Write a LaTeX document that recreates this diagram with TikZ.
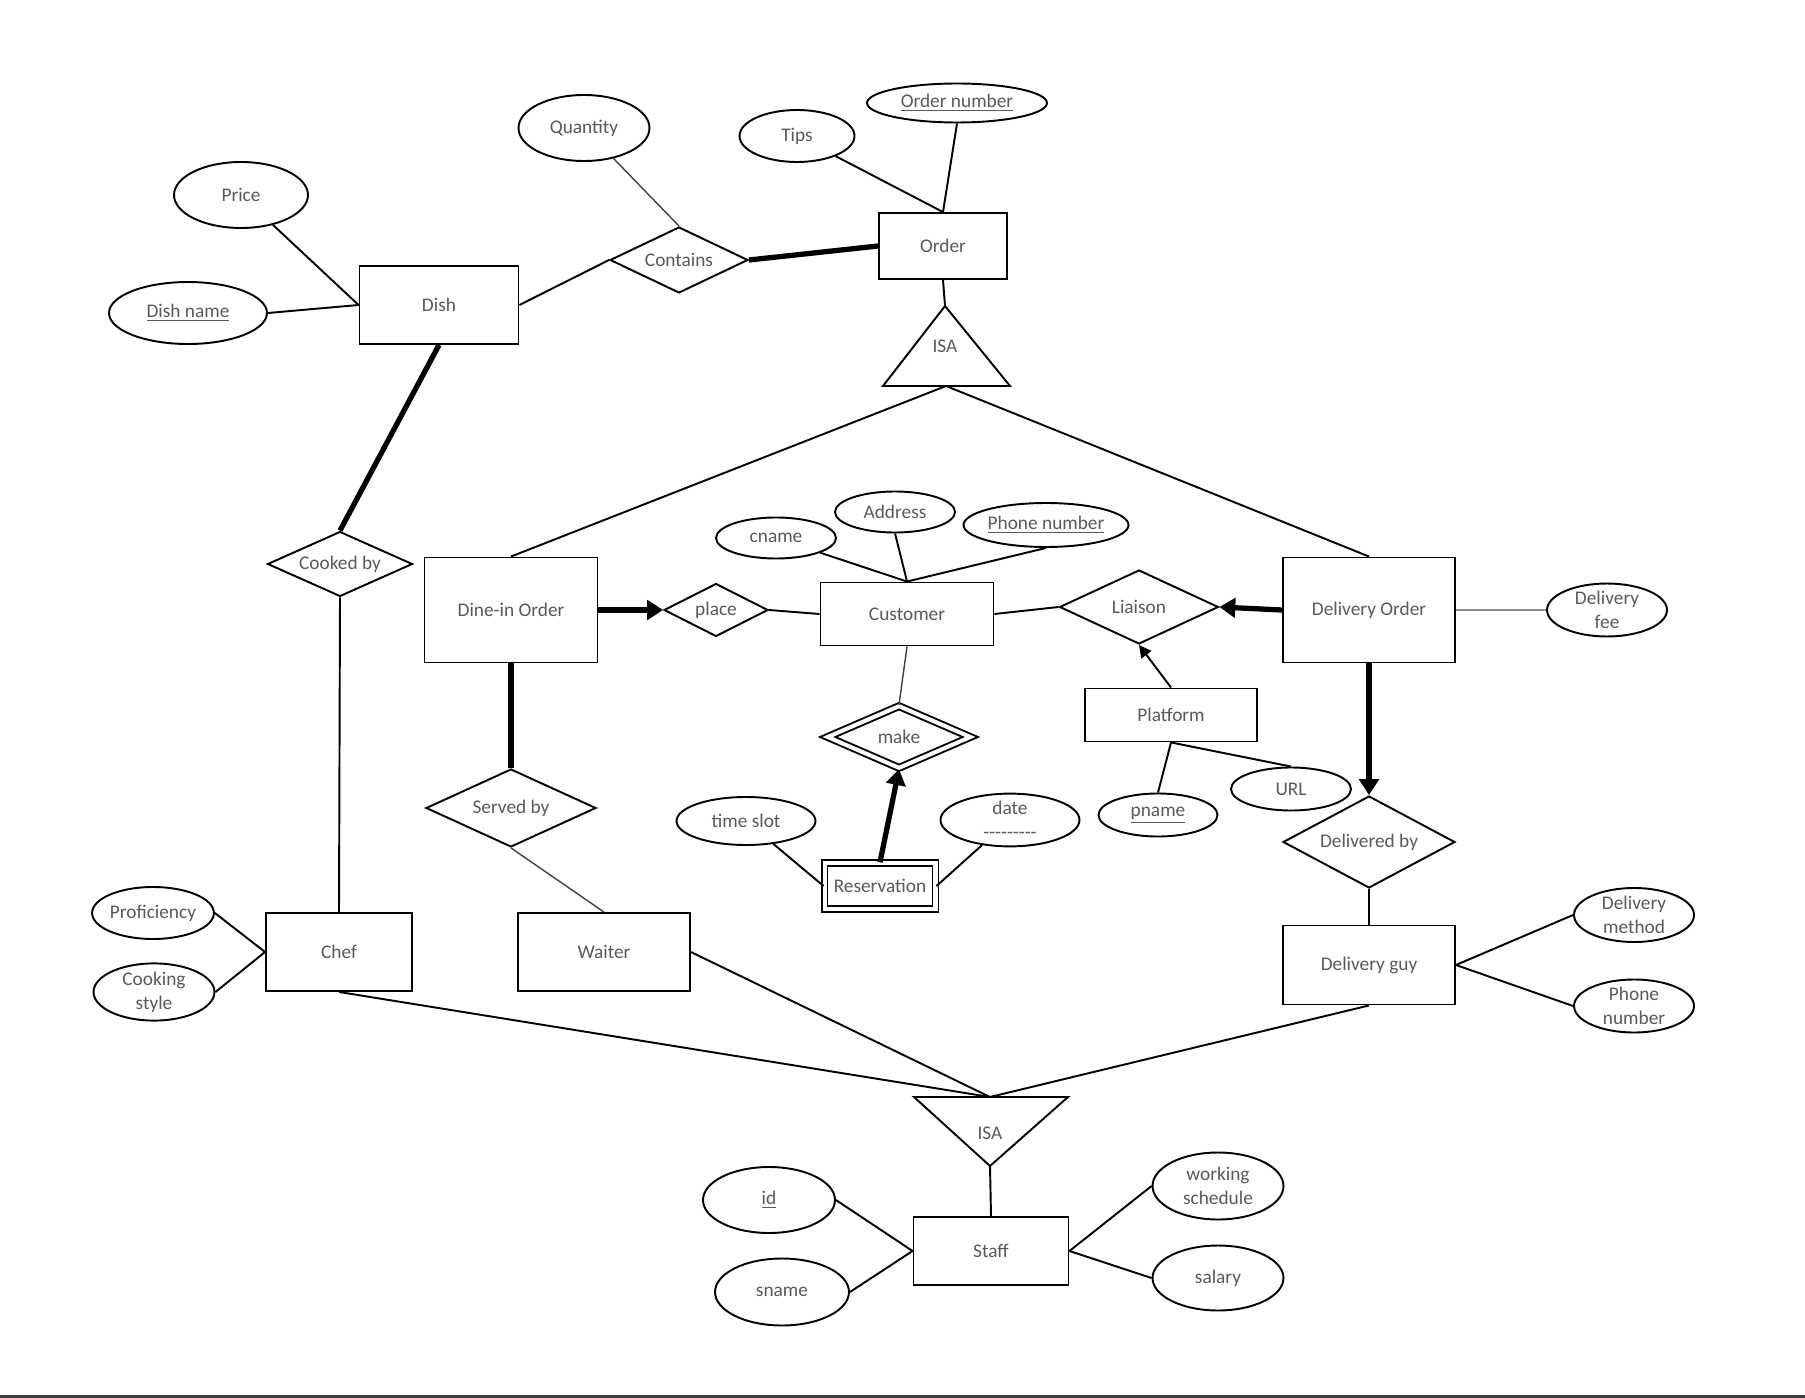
\documentclass[tikz,border=0pt]{standalone}
\usepackage{fontspec}
\setmainfont{Carlito}
\usepackage{tikz}
\usetikzlibrary{shapes.geometric, arrows.meta}
\definecolor{labelgray}{RGB}{89,89,89}

\begin{document}
\begin{tikzpicture}[x=0.02cm, y=-0.02cm, line width=1.1pt,
  every node/.style={text=labelgray, font=\fontsize{11}{13.6}\selectfont},
  entity/.style={draw=black, rectangle, inner sep=0pt},
  rel/.style={draw=black, diamond, aspect=2, inner sep=0pt},
  attr/.style={draw=black, ellipse, inner sep=0pt, align=center},
  heavy/.style={line width=3pt},
  thinline/.style={line width=0.8pt, black!75},
  bigtip/.style={-{Triangle[length=9pt,width=11pt]}}]
  \useasboundingbox (0,0) rectangle (1805,1398);
  % ---- entities ----
  \node[entity, minimum width=3.18cm, minimum height=1.56cm] (dish) at (439,305) {Dish};
  \node[entity, minimum width=2.56cm, minimum height=1.32cm] (order) at (943,246) {Order};
  \node[entity, minimum width=3.46cm, minimum height=2.10cm] (dinein) at (511,610) {Dine-in Order};
  \node[entity, minimum width=3.46cm, minimum height=1.26cm] (customer) at (907,614) {Customer};
  \node[entity, minimum width=3.44cm, minimum height=2.10cm] (delivord) at (1369,610) {Delivery Order};
  \node[entity, minimum width=3.44cm, minimum height=1.06cm] (platform) at (1171,715) {Platform};
  \node[entity, double, double distance=2.3pt, minimum width=2.22cm, minimum height=0.91cm] (reserv) at (880,886) {Reservation};
  \node[entity, minimum width=2.92cm, minimum height=1.56cm] (chef) at (339,952) {Chef};
  \node[entity, minimum width=3.44cm, minimum height=1.56cm] (waiter) at (604,952) {Waiter};
  \node[entity, minimum width=3.44cm, minimum height=1.58cm] (delivguy) at (1369,965) {Delivery guy};
  \node[entity, minimum width=3.10cm, minimum height=1.36cm] (staff) at (991,1251) {Staff};
  % ---- relationships ----
  \node[rel, minimum width=2.76cm, minimum height=1.32cm] (contains) at (679,260) {Contains};
  \node[rel, minimum width=2.90cm, minimum height=1.30cm] (cookedby) at (340,564) {Cooked by};
  \node[rel, minimum width=2.08cm, minimum height=1.06cm] (place) at (716,610) {place};
  \node[rel, minimum width=3.18cm, minimum height=1.48cm] (liaison) at (1139,607) {Liaison};
  \node[rel, double, double distance=2.3pt, minimum width=2.87cm, minimum height=1.25cm] (make) at (899,737) {make};
  \node[rel, minimum width=3.40cm, minimum height=1.56cm] (servedby) at (511,808) {Served by};
  \node[rel, minimum width=3.44cm, minimum height=1.84cm] (delivby) at (1369,842) {Delivered by};
  % ---- ISA triangles ----
  \coordinate (isaonetop) at (945,306);
  \coordinate (isaonebase) at (946,386);
  \draw (isaonetop) -- (883,386) -- (1010,386) -- cycle;
  \node (isaone) at (945,346) {ISA};
  \coordinate (isatwotop) at (990,1097);
  \coordinate (isatwoapex) at (990,1166);
  \draw (914,1097) -- (1068,1097) -- (isatwoapex) -- cycle;
  \node (isatwo) at (990,1133) {ISA};
  % ---- attributes ----
  \node[attr, minimum width=2.68cm, minimum height=1.32cm] (price) at (241,195) {Price};
  \node[attr, minimum width=3.16cm, minimum height=1.24cm] (dishname) at (188,313) {\underline{Dish name}};
  \node[attr, minimum width=2.62cm, minimum height=1.32cm] (quantity) at (584,128) {Quantity};
  \node[attr, minimum width=2.30cm, minimum height=1.04cm] (tips) at (797,136) {Tips};
  \node[attr, minimum width=3.60cm, minimum height=0.78cm] (ordernum) at (957,103) {\underline{Order number}};
  \node[attr, minimum width=2.40cm, minimum height=0.82cm] (cname) at (776,538) {cname};
  \node[attr, minimum width=2.40cm, minimum height=0.82cm] (address) at (895,512) {Address};
  \node[attr, minimum width=3.20cm, minimum height=0.88cm] (phone) at (1046,525) {\underline{Phone number}};
  \node[attr, minimum width=2.40cm, minimum height=1.04cm] (delivfee) at (1607,610) {Delivery\\fee};
  \node[attr, minimum width=2.40cm, minimum height=0.86cm] (url) at (1291,789) {URL};
  \node[attr, minimum width=2.38cm, minimum height=0.86cm] (pname) at (1158,815) {\underline{pname}};
  \node[attr, minimum width=2.78cm, minimum height=0.96cm] (timeslot) at (746,821) {time slot};
  \node[attr, minimum width=2.78cm, minimum height=1.00cm] (date) at (1010,820) {date\\-{}-{}-{}-{}-{}-{}-{}-{}-};
  \node[attr, minimum width=2.40cm, minimum height=1.04cm] (profic) at (153,913) {Proficiency};
  \node[attr, minimum width=2.42cm, minimum height=1.10cm] (cookstyle) at (154,992) {Cooking\\style};
  \node[attr, minimum width=2.40cm, minimum height=1.08cm] (delivmethod) at (1634,915) {Delivery\\method};
  \node[attr, minimum width=2.40cm, minimum height=1.06cm] (guyphone) at (1634,1006) {Phone\\number};
  \node[attr, minimum width=2.64cm, minimum height=1.32cm] (id) at (769,1200) {\underline{id}};
  \node[attr, minimum width=2.68cm, minimum height=1.34cm] (sname) at (782,1292) {sname};
  \node[attr, minimum width=2.62cm, minimum height=1.34cm] (wsched) at (1218,1186) {working\\schedule};
  \node[attr, minimum width=2.62cm, minimum height=1.30cm] (salary) at (1218,1278) {salary};
  % ---- connectors: top part ----
  \draw (price) -- (dish.west);
  \draw (dishname.east) -- (dish.west);
  \draw (dish.east) -- (contains.west);
  \draw[thinline] (quantity) -- (contains.north);
  \draw[heavy] (contains.east) -- (order.west);
  \draw (tips) -- (order.north);
  \draw (ordernum.south) -- (order.north);
  \draw (order.south) -- (isaonetop);
  \draw (isaonebase) -- (dinein.north);
  \draw (isaonebase) -- (delivord.north);
  \draw[heavy] (dish.south) -- (cookedby.north);
  \draw (cookedby.south) -- (chef.north);
  % ---- connectors: middle part ----
  \draw[heavy, bigtip] (dinein.east) -- (place.west);
  \draw (place.east) -- (customer.west);
  \draw (customer.east) -- (liaison.west);
  \draw[heavy, bigtip] (delivord.west) -- (liaison.east);
  \draw[-{Triangle[length=7pt,width=7pt]}] (platform.north) -- (liaison.south);
  \draw (platform.south) -- (pname.north);
  \draw (platform.south) -- (url.north);
  \draw[black!45] (delivord.east) -- (delivfee.west);
  \draw[heavy, bigtip] (delivord.south) -- (delivby.north);
  \draw (delivby.south) -- (delivguy.north);
  \draw (cname) -- (customer.north);
  \draw (address.south) -- (customer.north);
  \draw (phone.south) -- (customer.north);
  \draw[thinline] (customer.south) -- (make.north);
  \draw[heavy, bigtip] (reserv.north) -- (make.south);
  \draw (timeslot) -- (reserv.west);
  \draw (date) -- (reserv.east);
  \draw[heavy] (dinein.south) -- (servedby.north);
  \draw[thinline] (servedby.south) -- (waiter.north);
  % ---- connectors: bottom part ----
  \draw (profic.east) -- (chef.west);
  \draw (cookstyle.east) -- (chef.west);
  \draw (chef.south) -- (isatwotop);
  \draw (waiter.east) -- (isatwotop);
  \draw (delivguy.south) -- (isatwotop);
  \draw (delivguy.east) -- (delivmethod.west);
  \draw (delivguy.east) -- (guyphone.west);
  \draw (isatwoapex) -- (staff.north);
  \draw (id.east) -- (staff.west);
  \draw (sname.east) -- (staff.west);
  \draw (wsched.west) -- (staff.east);
  \draw (salary.west) -- (staff.east);
  \draw[black!75, line width=1.2pt] (0,1396.5) -- (1805,1396.5);
\end{tikzpicture}
\end{document}
